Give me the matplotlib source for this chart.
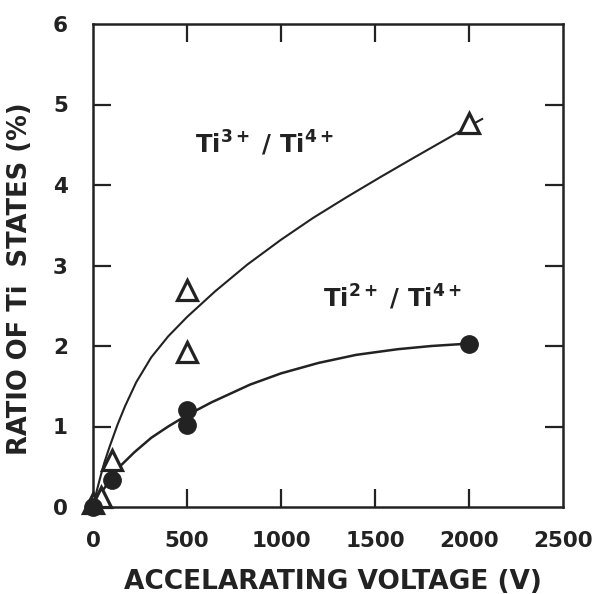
import matplotlib
matplotlib.use("Agg")
import matplotlib.pyplot as plt

# --- data ---
tri_x = [0, 40, 100, 500, 500, 2000]
tri_y = [0.05, 0.12, 0.58, 2.70, 1.93, 4.77]

circ_x = [0, 100, 500, 500, 2000]
circ_y = [0.0, 0.33, 1.20, 1.02, 2.02]

# hand-drawn fit curves
ti3_curve_x = [0, 20, 40, 60, 90, 130, 170, 230, 310, 400, 500, 650, 820,
               1000, 1170, 1350, 1530, 1700, 1880, 2000, 2070]
ti3_curve_y = [0, 0.20, 0.38, 0.55, 0.76, 1.02, 1.25, 1.55, 1.86, 2.12, 2.36,
               2.68, 3.01, 3.32, 3.59, 3.85, 4.10, 4.33, 4.57, 4.73, 4.82]

ti2_curve_x = [0, 50, 100, 150, 220, 310, 400, 500, 630, 835, 1000, 1200,
               1400, 1620, 1800, 2000]
ti2_curve_y = [0, 0.20, 0.36, 0.52, 0.68, 0.86, 1.00, 1.14, 1.30, 1.52, 1.66,
               1.79, 1.89, 1.96, 2.00, 2.03]

x_ticks = [0, 500, 1000, 1500, 2000, 2500]
y_ticks = [0, 1, 2, 3, 4, 5, 6]

label_ti3 = r"Ti$^{\mathbf{3+}}$ / Ti$^{\mathbf{4+}}$"
label_ti2 = r"Ti$^{\mathbf{2+}}$ / Ti$^{\mathbf{4+}}$"
xlabel = "ACCELARATING VOLTAGE (V)"
ylabel = "RATIO OF Ti  STATES (%)"

plt.rcParams['font.family'] = ['DejaVu Sans']
plt.rcParams['mathtext.fontset'] = 'dejavusans'

fig = plt.figure(figsize=(5.92, 5.94), dpi=100)
ax = fig.add_axes([93/592, 1-507/594, 470/592, 483/594])

ink = '#222222'
ax.plot(ti3_curve_x, ti3_curve_y, color=ink, lw=1.5, zorder=2)
ax.plot(ti2_curve_x, ti2_curve_y, color=ink, lw=1.8, zorder=2)
ax.plot(tri_x, tri_y, linestyle='none', marker='^', markersize=14,
        markerfacecolor='white', markeredgecolor=ink, markeredgewidth=2.3,
        clip_on=False, zorder=3)
ax.plot(circ_x, circ_y, linestyle='none', marker='o', markersize=12.5,
        markerfacecolor=ink, markeredgecolor=ink, clip_on=False, zorder=4)

ax.set_xlim(0, 2500)
ax.set_ylim(0, 6)
# labels on major ticks (no marks), marks on interior minor ticks
ax.xaxis.remove_overlapping_locs = False
ax.yaxis.remove_overlapping_locs = False
ax.set_xticks(x_ticks)
ax.set_yticks(y_ticks)
ax.set_xticks(x_ticks[1:-1], minor=True)
ax.set_yticks(y_ticks[1:-1], minor=True)
ax.tick_params(which='major', length=0, labelsize=15.5, pad=17, labelcolor=ink)
ax.tick_params(axis='y', which='major', pad=18)
ax.tick_params(which='minor', direction='in', length=13, width=1.6, color=ink,
               top=True, right=True, bottom=True, left=True,
               labelbottom=False, labelleft=False)
for lab in ax.get_xticklabels() + ax.get_yticklabels():
    lab.set_fontweight('bold')
for sp in ax.spines.values():
    sp.set_linewidth(1.8)
    sp.set_color(ink)

ax.set_xlabel(xlabel, fontsize=19, fontweight='bold', color=ink)
ax.set_ylabel(ylabel, fontsize=18.5, fontweight='bold', color=ink)
ax.xaxis.set_label_coords(0.511, -0.128)
ax.yaxis.set_label_coords(-0.128, 0.472)

ax.text(540, 4.40, label_ti3, fontsize=17.5, fontweight='bold', color=ink)
ax.text(1223, 2.48, label_ti2, fontsize=17.5, fontweight='bold', color=ink)

fig.savefig("out.png", dpi=100)
